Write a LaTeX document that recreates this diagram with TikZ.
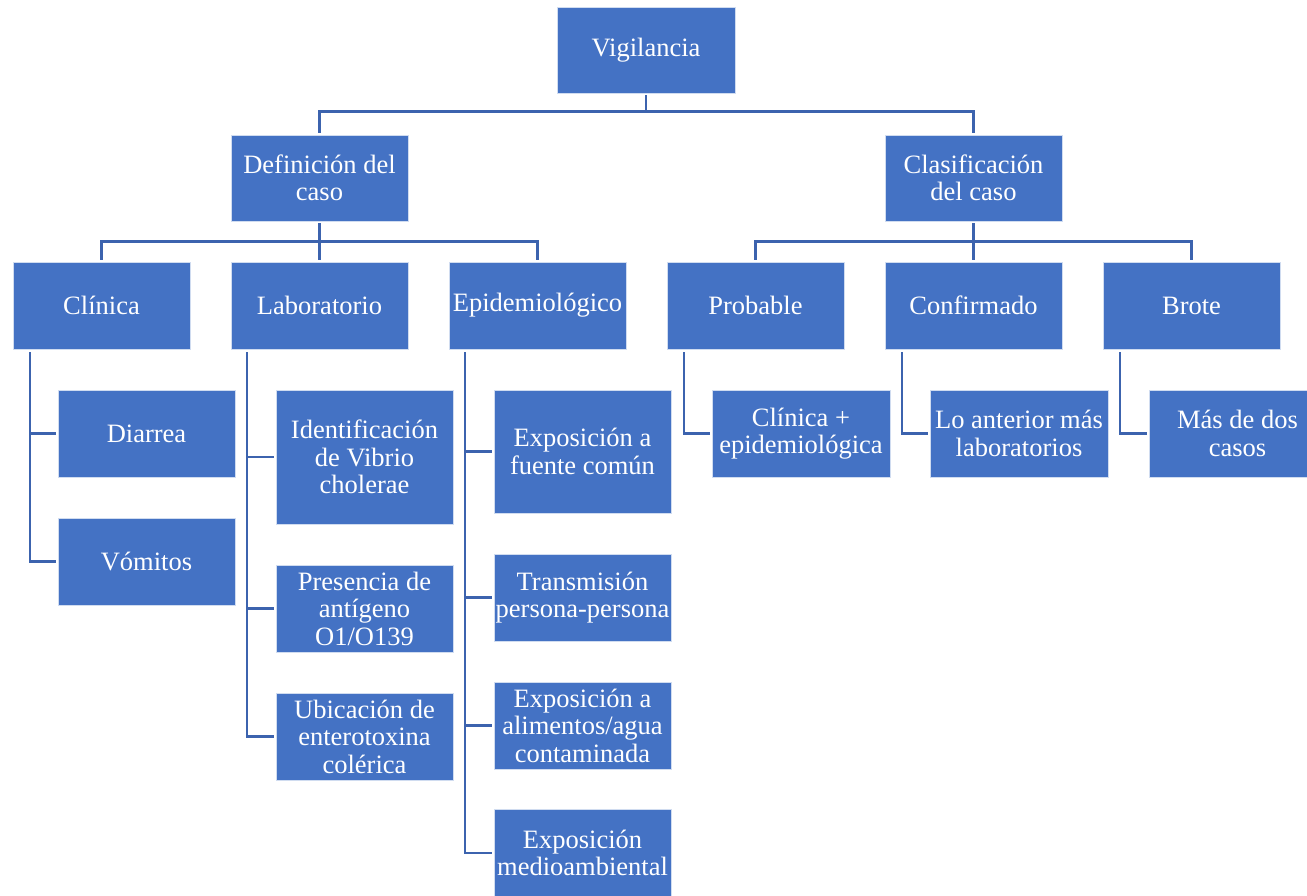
\documentclass[tikz,border=0pt]{standalone}
\usepackage{fontspec}
\setmainfont{Liberation Serif}
\definecolor{boxfill}{HTML}{4472C4}
\definecolor{linkblue}{HTML}{3C63AE}
\tikzset{
  box/.style={rectangle, fill=boxfill, draw=white!75!boxfill, line width=0.8pt,
    text=white, align=center, inner sep=1pt,
    minimum width=177pt, minimum height=87pt,
    font=\fontsize{26.5}{27.5}\selectfont},
  conn/.style={draw=linkblue, line width=2.8pt, line cap=butt, line join=miter},
}
\begin{document}
\begin{tikzpicture}[x=1pt, y=-1pt]
\useasboundingbox (0,0) rectangle (1307,895);

% root and second level
\node[box, minimum width=178pt, minimum height=86pt] (vig) at (646,50) {Vigilancia};
\node[box, minimum height=86pt] (def) at (319.5,178) {Definición del\\caso};
\node[box, minimum height=86pt] (cla) at (973.5,178) {Clasificación\\del caso};

% third level
\node[box] (clin) at (101.5,305.5) {Clínica};
\node[box] (lab)  at (319.5,305.5) {Laboratorio};
\node[box] (epi)  at (537.5,305.5) {Epidemiológico};
\node[box] (prob) at (755.5,305.5) {Probable};
\node[box] (conf) at (973.5,305.5) {Confirmado};
\node[box] (brot) at (1191.5,305.5) {Brote};

% Clínica
\node[box] (diar) at (146.5,433.5) {Diarrea};
\node[box] (vomi) at (146.5,561.5) {Vómitos};

% Laboratorio
\node[box, minimum height=134pt] (iden) at (364.5,457) {Identificación\\de Vibrio\\cholerae};
\node[box] (pres) at (364.5,608.5) {Presencia de\\antígeno\\O1/O139};
\node[box] (ubic) at (364.5,736.5) {Ubicación de\\enterotoxina\\colérica};

% Epidemiológico
\node[box, minimum height=123pt] (fuen) at (582.5,451.5) {Exposición a\\fuente común};
\node[box] (tran) at (582.5,597.5) {Transmisión\\persona-persona};
\node[box] (alim) at (582.5,725.5) {Exposición a\\alimentos/agua\\contaminada};
\node[box] (medi) at (582.5,853) {Exposición\\medioambiental};

% Clasificación
\node[box, minimum width=178pt] (cepi) at (801,433.5) {Clínica +\\epidemiológica};
\node[box, minimum width=178pt] (lant) at (1019,433.5) {Lo anterior más\\laboratorios};
\node[box] (mdos) at (1237.5,433.5) {Más de dos\\casos};

% root to second level (yshift acts on the page: positive is upwards)
\draw[conn] ([yshift=-2pt]vig.south) |- ([yshift=23pt]def.north) -- ([yshift=2pt]def.north);
\draw[conn] ([yshift=-2pt]vig.south) |- ([yshift=23pt]cla.north) -- ([yshift=2pt]cla.north);

% second level to third level
\foreach \c in {clin,lab,epi}
  \draw[conn] ([yshift=-2pt]def.south) |- ([yshift=20pt]\c.north) -- ([yshift=2pt]\c.north);
\foreach \c in {prob,conf,brot}
  \draw[conn] ([yshift=-2pt]cla.south) |- ([yshift=20pt]\c.north) -- ([yshift=2pt]\c.north);

% third level to leaves
\foreach \c in {diar,vomi}
  \draw[conn] ([xshift=-71.5pt,yshift=-3pt]clin.south) |- ([xshift=-2pt]\c.west);
\foreach \c in {iden,pres,ubic}
  \draw[conn] ([xshift=-72.5pt,yshift=-3pt]lab.south) |- ([xshift=-2pt]\c.west);
\foreach \c in {fuen,tran,alim,medi}
  \draw[conn] ([xshift=-72.5pt,yshift=-3pt]epi.south) |- ([xshift=-2pt]\c.west);
\draw[conn] ([xshift=-71.5pt,yshift=-3pt]prob.south) |- ([xshift=-2pt]cepi.west);
\draw[conn] ([xshift=-71.5pt,yshift=-3pt]conf.south) |- ([xshift=-2pt]lant.west);
\draw[conn] ([xshift=-71.5pt,yshift=-3pt]brot.south) |- ([xshift=-2pt]mdos.west);
\end{tikzpicture}
\end{document}
